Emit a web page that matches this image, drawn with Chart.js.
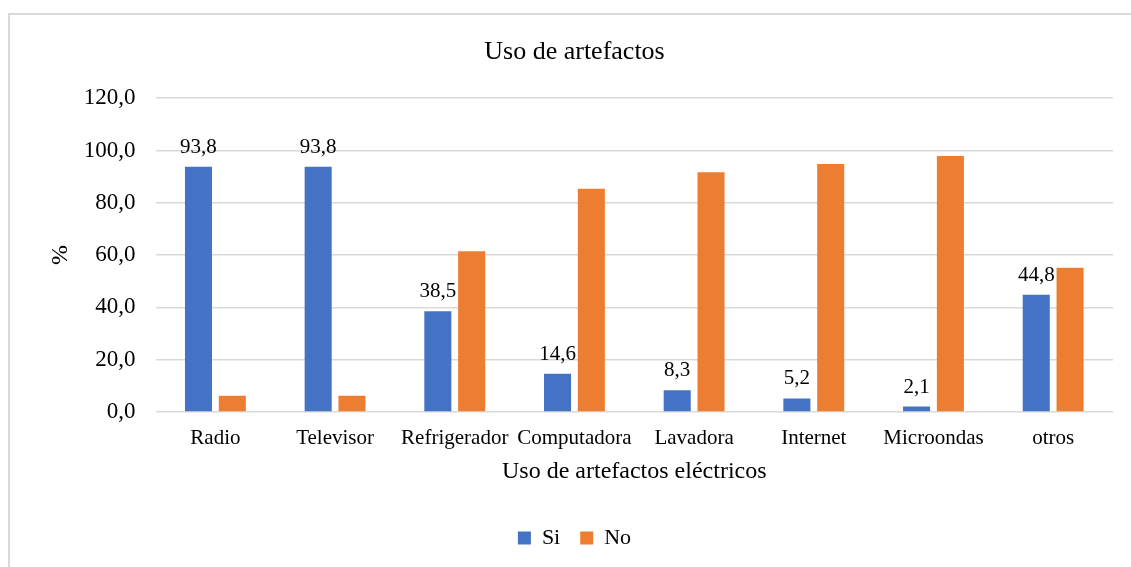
<!DOCTYPE html>
<html>
<head>
<meta charset="utf-8">
<script src="https://cdn.jsdelivr.net/npm/chart.js@4/dist/chart.umd.min.js"></script>
<style>
  html, body { margin: 0; padding: 0; background: #fff; }
  #frame { position: absolute; left: 8px; top: 13px; width: 1200px; height: 600px;
           border-left: 2px solid #d9d9d9; border-top: 2px solid #d9d9d9; }
  #wrap { position: absolute; left: 0; top: 0; width: 1131px; height: 567px; }
</style>
</head>
<body>
<div id="frame"></div>
<div id="wrap"><canvas id="barChart"></canvas></div>
<script>
const categories = ["Radio", "Televisor", "Refrigerador", "Computadora", "Lavadora", "Internet", "Microondas", "otros"];
const siValues = [93.8, 93.8, 38.5, 14.6, 8.3, 5.2, 2.1, 44.8];
const noValues = [6.2, 6.2, 61.5, 85.4, 91.7, 94.8, 97.9, 55.2];
const yTicks = [0, 20, 40, 60, 80, 100, 120];

const FONT = "'Liberation Serif', 'Times New Roman', serif";
const fmt = v => v.toFixed(1).replace('.', ',');

// labels above the "Si" bars only
const siLabels = {
    id: 'siLabels',
    afterDatasetsDraw(chart) {
        const ctx = chart.ctx;
        const meta = chart.getDatasetMeta(0);
        ctx.save();
        ctx.font = '21px ' + FONT;
        ctx.fillStyle = '#000';
        ctx.textAlign = 'center';
        ctx.textBaseline = 'alphabetic';
        meta.data.forEach((bar, i) => {
            ctx.fillText(fmt(siValues[i]), bar.x, bar.y - 14);
        });
        ctx.restore();
    }
};

const CHART = document.getElementById('barChart');
let barChart = new Chart(CHART, {
    type: 'bar',
    data: {
        labels: categories,
        datasets: [
            {
                label: "Si",
                data: siValues,
                backgroundColor: "#4472C4",
                categoryPercentage: 0.565,
                barPercentage: 0.8
            },
            {
                label: "No",
                data: noValues,
                backgroundColor: "#ED7D31",
                categoryPercentage: 0.565,
                barPercentage: 0.8
            }
        ]
    },
    options: {
        responsive: true,
        maintainAspectRatio: false,
        animation: false,
        layout: { padding: { left: 36, right: 18, top: 22, bottom: 8 } },
        plugins: {
            title: {
                display: true,
                text: "Uso de artefactos",
                color: '#000',
                font: { family: FONT, size: 26, weight: 'normal' },
                padding: { top: 15, bottom: 30 }
            },
            legend: {
                position: 'bottom',
                labels: {
                    color: '#000',
                    font: { family: FONT, size: 22 },
                    boxWidth: 13,
                    boxHeight: 13,
                    padding: 20
                }
            },
            tooltip: { enabled: false }
        },
        scales: {
            x: {
                grid: { display: false },
                border: { display: false },
                ticks: { color: '#000', font: { family: FONT, size: 21 }, padding: 6, maxRotation: 0, autoSkip: false },
                title: {
                    display: true,
                    text: "Uso de artefactos eléctricos",
                    color: '#000',
                    font: { family: FONT, size: 24 },
                    padding: { top: 0, bottom: 21 }
                }
            },
            y: {
                min: 0,
                max: 120,
                afterBuildTicks: axis => { axis.ticks = yTicks.map(v => ({ value: v })); },
                grid: { color: '#d9d9d9', lineWidth: 1.5, drawTicks: false },
                border: { display: false },
                ticks: { color: '#000', font: { family: FONT, size: 23 }, padding: 20, callback: v => fmt(v) },
                title: {
                    display: true,
                    text: "%",
                    color: '#000',
                    font: { family: FONT, size: 24 },
                    padding: { top: 10, bottom: -11 }
                }
            }
        }
    },
    plugins: [siLabels]
});
</script>
</body>
</html>
